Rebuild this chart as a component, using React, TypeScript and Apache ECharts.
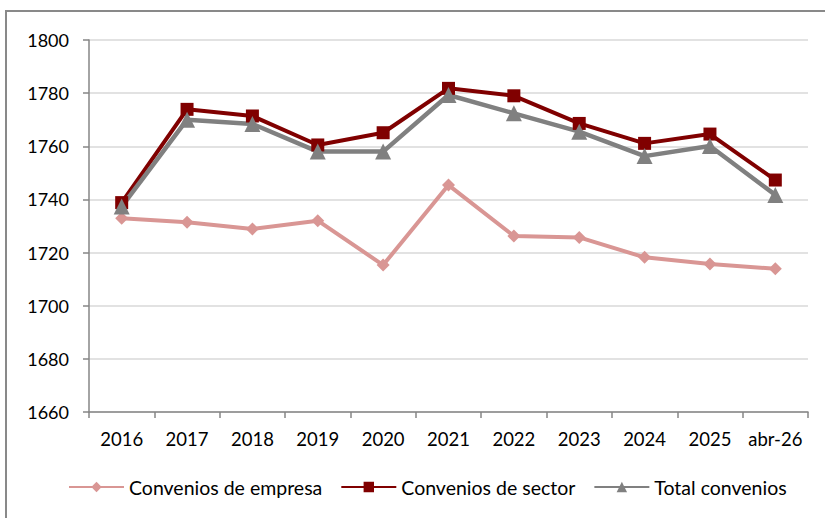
import React, { useEffect, useRef } from "react";
import * as echarts from "echarts";

const categories = ["2016", "2017", "2018", "2019", "2020", "2021", "2022", "2023", "2024", "2025", "abr-26"];
const empresa = [1732.9, 1731.4, 1728.9, 1732.0, 1715.3, 1745.4, 1726.2, 1725.7, 1718.2, 1715.7, 1713.9];
const sector = [1738.8, 1773.9, 1771.4, 1760.5, 1765.1, 1781.8, 1779.0, 1768.6, 1761.1, 1764.6, 1747.3];
const total = [1737.3, 1770.0, 1768.4, 1758.0, 1758.0, 1779.3, 1772.4, 1765.5, 1756.3, 1760.1, 1741.7];
const seriesNames = ["Convenios de empresa", "Convenios de sector", "Total convenios"];

const FONT = "Lato, 'Open Sans', sans-serif";

export default function App() {
  const ref = useRef<HTMLDivElement>(null);
  useEffect(() => {
    if (!ref.current) return;
    const chart = echarts.init(ref.current, undefined, { renderer: "svg" });
    chart.setOption({
      animation: false,
      backgroundColor: "#ffffff",
      textStyle: { fontFamily: FONT },
      graphic: [
        {
          type: "rect",
          shape: { x: 6, y: 11, width: 840, height: 530 },
          style: { fill: "none", stroke: "#898989", lineWidth: 2 },
          silent: true,
        },
      ],
      grid: { left: 89, right: 17, top: 40, bottom: 106 },
      legend: {
        bottom: 16,
        left: 63,
        itemWidth: 55,
        itemHeight: 13,
        itemGap: 18,
        textStyle: { fontFamily: FONT, fontSize: 19.5, color: "#000" },
        data: seriesNames,
      },
      xAxis: {
        type: "category",
        data: categories,
        boundaryGap: true,
        axisLine: { lineStyle: { color: "#868686", width: 1.5 } },
        axisTick: { show: true, length: 6, inside: false, lineStyle: { color: "#868686", width: 1.5 } },
        axisLabel: { color: "#000", fontSize: 18.5, fontFamily: FONT, margin: 17, interval: 0 },
      },
      yAxis: {
        type: "value",
        min: 1660,
        max: 1800,
        interval: 20,
        axisLine: { show: true, lineStyle: { color: "#868686", width: 1.5 } },
        axisTick: { show: true, length: 6, lineStyle: { color: "#868686", width: 1.5 } },
        axisLabel: { color: "#000", fontSize: 18, fontFamily: FONT, margin: 20, formatter: (v: number) => String(v) },
        splitLine: { show: true, lineStyle: { color: "#D9D9D9", width: 1.5 } },
      },
      series: [
        {
          name: seriesNames[0],
          type: "line",
          data: empresa,
          symbol: "diamond",
          symbolSize: 13,
          lineStyle: { color: "#D99694", width: 4 },
          itemStyle: { color: "#D99694" },
        },
        {
          name: seriesNames[1],
          type: "line",
          data: sector,
          symbol: "rect",
          symbolSize: 13,
          lineStyle: { color: "#800000", width: 4 },
          itemStyle: { color: "#800000" },
        },
        {
          name: seriesNames[2],
          type: "line",
          data: total,
          symbol: "triangle",
          symbolSize: 16,
          lineStyle: { color: "#808080", width: 4.5 },
          itemStyle: { color: "#808080" },
        },
      ],
    });
    return () => chart.dispose();
  }, []);
  return <div ref={ref} style={{ position: "fixed", left: 0, top: 0, width: 825, height: 518 }} />;
}
